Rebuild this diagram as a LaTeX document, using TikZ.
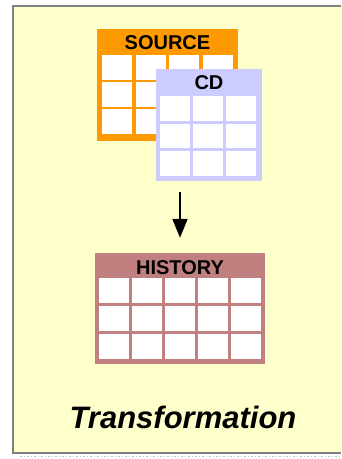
\documentclass[tikz,border=0pt]{standalone}
\usepackage{fontspec}
\setmainfont{Liberation Sans}
\usetikzlibrary{positioning,fit,calc,arrows.meta}

\begin{document}
\begin{tikzpicture}[x=1pt, y=-1pt, >={Triangle[length=19pt,width=15pt]}]
		\definecolor{mpaper}{RGB}{255,255,204}
		\definecolor{mframe}{RGB}{128,128,128}
		\definecolor{morange}{RGB}{255,153,0}
		\definecolor{mlilac}{RGB}{204,204,255}
		\definecolor{mrose}{RGB}{192,128,128}
		\tikzset{headfont/.style={font=\fontsize{20}{20}\selectfont\bfseries}}

		\useasboundingbox (0,0) rectangle (341,459);

		% Slide frame
		\fill[mpaper] (13,6) rectangle (341,453);
		\draw[mframe, line width=2.5pt] (341,6) -- (13,6) -- (13,453) -- (341,453);
		\draw[mframe!50, dotted, line width=1.5pt] (20,456.5) -- (341,456.5);

		% Source table
		\node[fit={(97,29) (238,141)},
			inner sep=0pt,
			fill=morange
			] (src) {};
		\node[fit={(97,30) (238,56)},
			inner sep=0pt,
			label={[headfont]center:SOURCE}
			] (srchead) {};
		\foreach \i in {0,...,3}
			\foreach \j in {0,...,2}
				\fill[white] ({102+\i*33.5},{55+\j*27}) rectangle +(30,25);

		% CD table
		\node[fit={(156,69) (262,181)},
			inner sep=0pt,
			fill=mlilac
			] (cd) {};
		\node[fit={(156,70) (262,96)},
			inner sep=0pt,
			label={[headfont]center:CD}
			] (cdhead) {};
		\foreach \i in {0,...,2}
			\foreach \j in {0,...,2}
				\fill[white] ({160+\i*33},{96+\j*27.5}) rectangle +(30,24.5);

		% History table
		\node[fit={(95,253) (265,364)},
			inner sep=0pt,
			fill=mrose
			] (hist) {};
		\node[fit={(95,255) (265,281)},
			inner sep=0pt,
			label={[headfont]center:HISTORY}
			] (histhead) {};
		\foreach \i in {0,...,4}
			\foreach \j in {0,...,2}
				\fill[white] ({99+\i*33.1},{278+\j*28.2}) rectangle +(29.6,24.7);

		% Edges
		\draw[->, line width=2pt] ([yshift=-11pt]hist.north |- cd.south) -- ([yshift=15pt]hist.north);

		% Caption
		\node[anchor=base, font=\fontsize{31}{31}\selectfont\bfseries\itshape] (caption) at (183,428) {Transformation};
	\end{tikzpicture}
\end{document}
